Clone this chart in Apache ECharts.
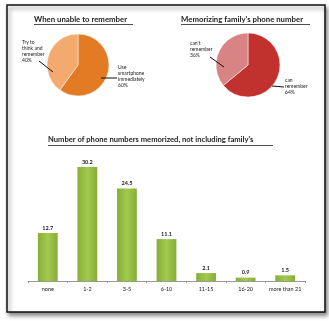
<!DOCTYPE html>
<html><head><meta charset="utf-8">
<script src="https://cdn.jsdelivr.net/npm/echarts@6/dist/echarts.min.js"></script>
<style>html,body{margin:0;padding:0;background:#fff}#c{width:329px;height:321px}</style>
</head><body><div id="c"></div>
<script>
const leftPieNames = ['Use\nsmartphone\nimmediately', 'Try to\nthink and\nremember'];
const leftPieValues = [60, 40];
const rightPieNames = ['can\nremember', "can't\nremember"];
const rightPieValues = [64, 36];
const barCategories = ['none', '1-2', '3-5', '6-10', '11-15', '16-20', 'more than 21'];
const barValues = [12.7, 30.2, 24.5, 11.1, 2.1, 0.9, 1.5];

const FONT = 'Lato, "Open Sans", sans-serif';
const chart = echarts.init(document.getElementById('c'), null, {renderer: 'canvas'});
const lineStyle = {stroke: '#111', lineWidth: 1};

chart.setOption({
  animation: false,
  backgroundColor: '#fff',
  graphic: [
    {type: 'rect', shape: {x: 7, y: 5, width: 318, height: 307}, z: -10,
     style: {fill: '#fff', stroke: '#111', lineWidth: 1.5, shadowBlur: 4, shadowOffsetX: 2, shadowOffsetY: 3, shadowColor: 'rgba(0,0,0,0.45)'}},
    {type: 'text', left: 34, top: 15, style: {text: 'When unable to remember', font: 'bold 7.8px ' + FONT, fill: '#222'}},
    {type: 'line', shape: {x1: 34, y1: 24.5, x2: 133, y2: 24.5}, style: {stroke: '#222', lineWidth: 0.8}},
    {type: 'text', left: 181, top: 15, style: {text: "Memorizing family's phone number", font: 'bold 7.8px ' + FONT, fill: '#222'}},
    {type: 'line', shape: {x1: 181, y1: 24.5, x2: 310, y2: 24.5}, style: {stroke: '#222', lineWidth: 0.8}},
    {type: 'text', left: 48, top: 136, style: {text: "Number of phone numbers memorized, not including family's", font: 'bold 7.6px ' + FONT, fill: '#222'}},
    {type: 'line', shape: {x1: 48, y1: 145.5, x2: 273, y2: 145.5}, style: {stroke: '#222', lineWidth: 0.8}},
    {type: 'line', z: 100, shape: {x1: 39, y1: 61, x2: 53, y2: 72}, style: lineStyle},
    {type: 'line', z: 100, shape: {x1: 101, y1: 78, x2: 117, y2: 78}, style: lineStyle},
    {type: 'line', z: 100, shape: {x1: 210, y1: 57, x2: 224, y2: 67}, style: lineStyle},
    {type: 'line', z: 100, shape: {x1: 272, y1: 86, x2: 284, y2: 87}, style: lineStyle}
  ],
  grid: {left: 28, right: 24, top: 167, bottom: 40},
  xAxis: {
    type: 'category', data: barCategories,
    axisLine: {lineStyle: {color: '#999', width: 1}},
    axisTick: {show: true, length: 2, lineStyle: {color: '#999'}},
    axisLabel: {fontSize: 5.5, color: '#222', fontFamily: FONT, margin: 5, interval: 0}
  },
  yAxis: {type: 'value', min: 0, max: 30.2, show: false, splitLine: {show: false}},
  series: [
    {
      type: 'bar', data: barValues, barWidth: '50%',
      itemStyle: {color: new echarts.graphic.LinearGradient(0, 0, 1, 0, [
        {offset: 0, color: '#86AE36'}, {offset: 0.5, color: '#A3C94F'}, {offset: 1, color: '#86AE36'}])},
      label: {show: true, position: 'top', fontSize: 5.5, color: '#222', fontFamily: FONT, fontWeight: 'bold', distance: 2}
    },
    {
      type: 'pie', center: [78, 65], radius: 31, startAngle: 90, clockwise: true, avoidLabelOverlap: false,
      data: leftPieNames.map((n, i) => ({name: n, value: leftPieValues[i]})),
      itemStyle: {borderColor: '#fff', borderWidth: 0.5},
      color: ['#E37B24', '#F2AA6E'],
      label: {show: true, position: 'outside', fontSize: 5, lineHeight: 6, color: '#222', fontFamily: FONT,
        formatter: p => p.name + '\n' + p.value + '%'},
      labelLine: {show: true, length: 4, length2: 4, lineStyle: {opacity: 0}},
      labelLayout: p => p.dataIndex === 0 ? {x: 118, y: 64, align: 'left', verticalAlign: 'top'} : {x: 22, y: 39, align: 'left', verticalAlign: 'top'}
    },
    {
      type: 'pie', center: [248, 65], radius: 32, startAngle: 90, clockwise: true, avoidLabelOverlap: false,
      data: rightPieNames.map((n, i) => ({name: n, value: rightPieValues[i]})),
      itemStyle: {borderColor: '#fff', borderWidth: 0.5},
      color: ['#C1322F', '#D88484'],
      label: {show: true, position: 'outside', fontSize: 5, lineHeight: 6, color: '#222', fontFamily: FONT,
        formatter: p => p.name + '\n' + p.value + '%'},
      labelLine: {show: true, length: 4, length2: 4, lineStyle: {opacity: 0}},
      labelLayout: p => p.dataIndex === 0 ? {x: 285, y: 77, align: 'left', verticalAlign: 'top'} : {x: 190, y: 40, align: 'left', verticalAlign: 'top'}
    }
  ]
});
</script></body></html>
